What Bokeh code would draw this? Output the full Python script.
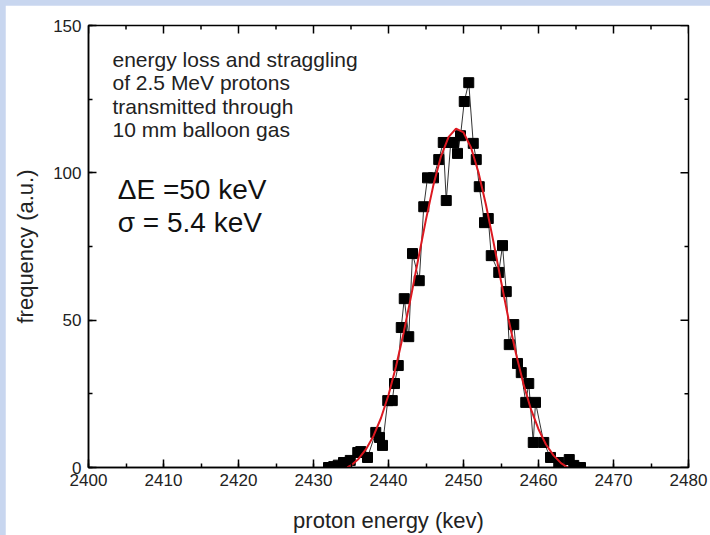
import math
from bokeh.plotting import figure
from bokeh.models import (LinearAxis, SingleIntervalTicker, Range1d, Label,
                          ColumnDataSource)
from bokeh.layouts import column
from bokeh.embed import file_html
from bokeh.resources import INLINE

energy_kev = [2432.0, 2432.7, 2433.3, 2434.0, 2434.9, 2435.9, 2436.3, 2437.2,
              2438.3, 2438.8, 2439.2, 2439.9, 2440.5, 2440.8, 2441.3, 2441.7,
              2442.1, 2442.7, 2443.2, 2444.1, 2444.7, 2445.2, 2446.0, 2446.7,
              2447.3, 2447.7, 2448.3, 2448.7, 2449.2, 2449.6, 2450.1, 2450.7,
              2451.3, 2451.7, 2452.1, 2452.8, 2453.3, 2453.7, 2454.7, 2455.2,
              2455.7, 2456.1, 2456.7, 2457.2, 2457.7, 2458.3, 2458.7, 2459.3,
              2459.6, 2460.7, 2461.6, 2462.7, 2464.1, 2464.7, 2465.6]
frequency = [0.0, 0.3, 0.8, 1.7, 2.4, 5.1, 5.4, 3.4,
             11.9, 10.2, 7.5, 22.7, 22.7, 28.5, 34.6, 47.5,
             57.3, 44.4, 72.6, 63.4, 88.5, 98.3, 98.3, 104.5,
             110.3, 90.6, 110.3, 110.3, 106.6, 112.6, 124.2, 130.6,
             110.0, 104.5, 95.3, 83.1, 84.5, 71.9, 66.2, 75.3,
             59.7, 41.7, 48.5, 35.3, 32.2, 22.1, 28.5, 8.5,
             22.1, 8.5, 3.4, 1.7, 2.7, 0.7, 0.0]

# gaussian fit curve
fit_energy = [2434.5, 2435, 2436, 2437, 2438, 2439, 2440, 2441, 2442, 2443,
              2444, 2445, 2446, 2447, 2448, 2449, 2450, 2451, 2452, 2453,
              2454, 2455, 2456, 2457, 2458, 2459, 2460, 2461, 2462, 2463,
              2463.9]
fit_frequency = [0.0, 0.7, 2.9, 6.2, 10.7, 16.8, 24.6, 34.3, 45.5, 58.0,
                 71.2, 84.2, 96.0, 105.6, 112.1, 115.0, 113.7, 108.6, 100.1, 89.1,
                 76.5, 63.3, 50.4, 38.6, 28.3, 19.7, 13.0, 7.8, 4.1, 1.5,
                 0.0]

# ticks
x_major_ticks = [2400, 2410, 2420, 2430, 2440, 2450, 2460, 2470, 2480]
x_minor_ticks = [2405, 2415, 2425, 2435, 2445, 2455, 2465, 2475]
y_major_ticks = [0, 50, 100, 150]
y_minor_ticks = [25, 75, 125]

annotation_lines = ["energy loss and straggling", "of 2.5 MeV protons",
                    "transmitted through", "10 mm balloon gas"]
delta_text = "\u0394E =50 keV"
sigma_text = "\u03c3 = 5.4 keV"

FONT = "Liberation Sans"
X0, X1, Y0, Y1 = 2400, 2480, 0, 150

p = figure(width=705, height=530, output_backend="svg", toolbar_location=None,
           x_range=Range1d(X0, X1), y_range=Range1d(Y0, Y1),
           frame_width=600, frame_height=442,
           min_border_left=83, min_border_right=22, min_border_top=20,
           min_border_bottom=68, x_axis_location=None, y_axis_location=None)
p.background_fill_color = "white"
p.border_fill_color = "white"
p.outline_line_color = "black"
p.outline_line_width = 1.5
p.xgrid.visible = False
p.ygrid.visible = False


def style_axis(ax):
    ax.axis_line_color = "black"
    ax.axis_line_width = 1.5
    ax.major_tick_in = 8
    ax.major_tick_out = 0
    ax.minor_tick_in = 4
    ax.minor_tick_out = 0
    ax.major_tick_line_color = "black"
    ax.minor_tick_line_color = "black"
    ax.major_tick_line_width = 1.5
    ax.minor_tick_line_width = 1.5
    ax.major_label_text_font = FONT
    ax.major_label_text_color = "#222222"
    ax.major_label_text_font_size = "17px"
    ax.axis_label_text_font = FONT
    ax.axis_label_text_font_size = "22px"
    ax.axis_label_text_font_style = "normal"
    ax.axis_label_text_color = "#222222"


xb = LinearAxis(ticker=SingleIntervalTicker(interval=10, num_minor_ticks=2),
                axis_label="proton energy (kev)")
style_axis(xb)
xb.major_label_standoff = 6
xb.axis_label_standoff = 19
p.add_layout(xb, "below")

yl = LinearAxis(ticker=SingleIntervalTicker(interval=50, num_minor_ticks=2),
                axis_label="frequency (a.u.)")
style_axis(yl)
yl.major_label_standoff = 7
yl.axis_label_standoff = 12
p.add_layout(yl, "left")

# mirrored inward ticks on top and right edges (clipped to the frame)
p.scatter(x=x_major_ticks, y=[Y1] * len(x_major_ticks), marker="dash",
          size=16, angle=math.pi / 2, line_color="black", line_width=1.5)
p.scatter(x=x_minor_ticks, y=[Y1] * len(x_minor_ticks), marker="dash",
          size=8, angle=math.pi / 2, line_color="black", line_width=1.5)
p.scatter(x=[X1] * len(y_major_ticks), y=y_major_ticks, marker="dash",
          size=16, line_color="black", line_width=1.5)
p.scatter(x=[X1] * len(y_minor_ticks), y=y_minor_ticks, marker="dash",
          size=8, line_color="black", line_width=1.5)

src = ColumnDataSource(data=dict(x=energy_kev, y=frequency))
p.line("x", "y", source=src, line_color="#333333", line_width=1)
p.scatter("x", "y", source=src, marker="square", size=10, fill_color="black",
          line_color="black")

fit = ColumnDataSource(data=dict(x=fit_energy, y=fit_frequency))
p.line("x", "y", source=fit, line_color="#dc1820", line_width=2)

baselines = [138.4, 130.5, 122.6, 114.7]
for txt, yb in zip(annotation_lines, baselines):
    p.add_layout(Label(x=2403.2, y=yb, text=txt, text_font=FONT,
                       text_font_size="21px", text_color="#222222",
                       text_baseline="alphabetic"))
p.add_layout(Label(x=2403.9, y=94.4, text=delta_text, text_font=FONT,
                   text_font_size="28px", text_color="#111111",
                   text_baseline="alphabetic"))
p.add_layout(Label(x=2403.9, y=83.2, text=sigma_text, text_font=FONT,
                   text_font_size="28px", text_color="#111111",
                   text_baseline="alphabetic"))

layout = column(p, styles={"background-color": "#c8d6ef", "padding-left": "5px",
                           "padding-top": "5px"})

open("out.html", "w").write(file_html(layout, INLINE))
